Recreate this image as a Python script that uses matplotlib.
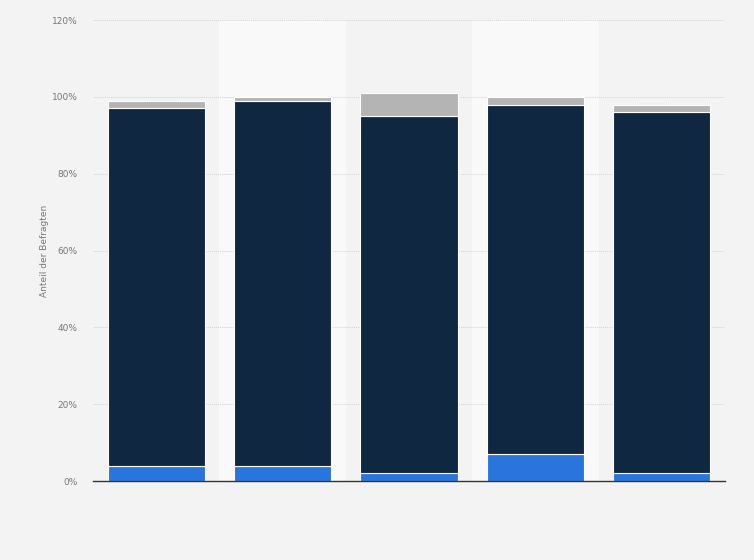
import numpy as np
import matplotlib.pyplot as plt

# Data (percent of respondents, stacked)
categories = ["1", "2", "3", "4", "5"]
blue_vals = [4, 4, 2, 7, 2]
dark_vals = [93, 95, 93, 91, 94]
gray_vals = [2, 1, 6, 2, 2]
y_ticks = [0, 20, 40, 60, 80, 100, 120]

fig = plt.figure(figsize=(7.54, 5.6), dpi=100, facecolor="#f3f3f3")
ax = fig.add_axes([0.1233, 0.141, 0.8382, 0.823])
ax.set_facecolor("#f3f3f3")

x = np.arange(len(categories))

# alternating column bands
for i in x:
    if i % 2 == 1:
        ax.axvspan(i - 0.5, i + 0.5, color="#f9f9f9", zorder=0, lw=0)

ax.set_yticks(y_ticks)
ax.yaxis.grid(True, linestyle=(0, (1, 1)), color="#d2d2d2", linewidth=0.7, zorder=1)

w = 0.77
bottom = np.zeros(len(categories))
for vals, col in [(blue_vals, "#2876dd"), (dark_vals, "#0f2740"), (gray_vals, "#b4b4b4")]:
    ax.bar(x, vals, w, bottom=bottom, color=col, edgecolor="white", linewidth=0.8, zorder=3)
    bottom += np.array(vals)

ax.set_xlim(-0.5, len(categories) - 0.5)
ax.set_ylim(0, 120)
ax.set_xticks([])
ax.set_yticklabels([f"{t}%" for t in y_ticks], fontsize=6.5, color="#777777")
ax.tick_params(axis="y", length=0, pad=11)
for s in ["top", "right", "left"]:
    ax.spines[s].set_visible(False)
ax.spines["bottom"].set_color("#333333")
ax.spines["bottom"].set_linewidth(1)
ax.spines["bottom"].set_zorder(4)

ax.set_ylabel("Anteil der Befragten", fontsize=6.5, color="#777777", labelpad=2)

fig.savefig("out.png", dpi=100, facecolor=fig.get_facecolor())
